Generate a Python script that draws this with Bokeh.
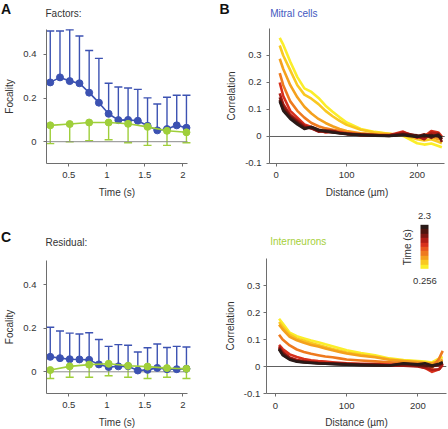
import math
from bokeh.plotting import figure
from bokeh.layouts import column, row
from bokeh.models import (FixedTicker, Whisker, TeeHead, ColumnDataSource, Label,
                          LinearColorMapper, ColorBar)
from bokeh.transform import linear_cmap
from bokeh.embed import file_html
from bokeh.resources import INLINE

# ---------------- data ----------------
time_blue = [0.256, 0.384, 0.512, 0.640, 0.768, 0.896, 1.024, 1.152,
             1.280, 1.408, 1.536, 1.664, 1.792, 1.920, 2.048]
time_green = [0.256, 0.512, 0.768, 1.024, 1.280, 1.536, 1.792, 2.048]

factors_blue_mean = [0.272, 0.295, 0.278, 0.268, 0.225, 0.179, 0.128, 0.099,
                     0.100, 0.096, 0.073, 0.052, 0.058, 0.075, 0.064]
factors_blue_upper = [0.508, 0.508, 0.513, 0.485, 0.418, 0.382, 0.268, 0.251,
                      0.246, 0.240, 0.201, 0.173, 0.204, 0.213, 0.213]
factors_green_mean = [0.075, 0.081, 0.088, 0.088, 0.082, 0.068, 0.050, 0.043]
factors_green_lower = [-0.009, 0.000, 0.005, 0.009, -0.005, -0.017, -0.017, -0.005]

residual_blue_mean = [0.069, 0.063, 0.058, 0.057, 0.055, 0.034, 0.022, 0.025,
                      0.026, 0.006, 0.009, 0.018, 0.012, 0.012, 0.014]
residual_blue_upper = [0.205, 0.188, 0.178, 0.174, 0.180, 0.149, 0.117, 0.125,
                       0.122, 0.091, 0.111, 0.128, 0.112, 0.117, 0.114]
residual_green_mean = [0.008, 0.025, 0.033, 0.037, 0.028, 0.024, 0.017, 0.014]
residual_green_lower = [-0.031, -0.025, -0.025, -0.018, -0.025, -0.031, -0.025, -0.031]

distance = [5, 10, 20, 30, 40, 50, 60, 70, 80, 90, 100, 120, 140, 160, 180,
            200, 210, 220, 230, 235]
line_times = [0.256, 0.512, 0.768, 1.024, 1.280, 1.536, 1.792, 2.048, 2.3]

mitral_corr = [
    [0.365, 0.340, 0.277, 0.220, 0.178, 0.165, 0.143, 0.114, 0.092, 0.071, 0.052,
     0.028, 0.017, 0.010, 0.002, -0.025, -0.030, -0.026, -0.035, -0.040],
    [0.337, 0.300, 0.245, 0.190, 0.155, 0.140, 0.120, 0.095, 0.075, 0.058, 0.043,
     0.025, 0.015, 0.010, 0.005, -0.010, -0.015, -0.010, -0.020, -0.025],
    [0.288, 0.250, 0.190, 0.145, 0.110, 0.085, 0.065, 0.050, 0.038, 0.028, 0.020,
     0.012, 0.008, 0.005, 0.008, 0.000, -0.005, 0.000, -0.010, -0.010],
    [0.235, 0.190, 0.130, 0.095, 0.070, 0.050, 0.038, 0.030, 0.025, 0.020, 0.015,
     0.010, 0.006, 0.004, 0.012, 0.000, 0.005, 0.010, 0.000, -0.005],
    [0.200, 0.150, 0.095, 0.070, 0.045, 0.035, 0.025, 0.015, 0.018, 0.015, 0.012,
     0.005, 0.004, 0.005, 0.018, -0.005, 0.000, 0.020, 0.015, 0.000],
    [0.160, 0.120, 0.080, 0.060, 0.040, 0.030, 0.018, 0.020, 0.020, 0.015, 0.010,
     0.006, 0.005, 0.003, 0.015, 0.002, -0.010, 0.015, 0.010, -0.010],
    [0.145, 0.110, 0.075, 0.055, 0.035, 0.030, 0.020, 0.022, 0.020, 0.013, 0.010,
     0.008, 0.004, 0.004, 0.010, 0.000, 0.008, -0.005, 0.010, -0.020],
    [0.135, 0.100, 0.070, 0.050, 0.030, 0.035, 0.022, 0.018, 0.016, 0.012, 0.008,
     0.006, 0.005, 0.002, 0.008, 0.004, 0.000, 0.005, 0.000, -0.010],
    [0.130, 0.095, 0.065, 0.045, 0.028, 0.035, 0.025, 0.020, 0.015, 0.012, 0.010,
     0.005, 0.003, 0.002, 0.005, -0.002, 0.005, 0.000, 0.005, -0.005],
]

inter_corr = [
    [0.177, 0.160, 0.125, 0.112, 0.104, 0.096, 0.090, 0.082, 0.075, 0.068, 0.060,
     0.050, 0.042, 0.030, 0.024, 0.020, 0.018, 0.015, 0.030, 0.035],
    [0.165, 0.148, 0.118, 0.103, 0.095, 0.087, 0.080, 0.072, 0.065, 0.058, 0.052,
     0.043, 0.036, 0.027, 0.021, 0.018, 0.015, 0.010, 0.018, 0.020],
    [0.155, 0.138, 0.110, 0.097, 0.088, 0.080, 0.074, 0.067, 0.060, 0.054, 0.048,
     0.040, 0.034, 0.025, 0.020, 0.016, 0.013, 0.012, 0.020, 0.025],
    [0.118, 0.100, 0.078, 0.063, 0.054, 0.047, 0.042, 0.037, 0.034, 0.030, 0.026,
     0.022, 0.019, 0.016, 0.013, 0.010, 0.008, -0.005, 0.030, 0.058],
    [0.080, 0.065, 0.045, 0.035, 0.028, 0.023, 0.020, 0.018, 0.016, 0.014, 0.012,
     0.010, 0.009, 0.007, 0.005, 0.002, -0.005, -0.020, -0.010, 0.010],
    [0.075, 0.055, 0.033, 0.024, 0.020, 0.017, 0.015, 0.013, 0.012, 0.011, 0.010,
     0.008, 0.007, 0.005, 0.003, 0.000, -0.005, -0.012, -0.010, 0.005],
    [0.070, 0.050, 0.030, 0.021, 0.018, 0.015, 0.013, 0.012, 0.011, 0.010, 0.009,
     0.007, 0.006, 0.004, 0.006, 0.003, 0.000, 0.002, 0.005, 0.012],
    [0.066, 0.045, 0.027, 0.019, 0.016, 0.014, 0.012, 0.011, 0.010, 0.009, 0.008,
     0.006, 0.005, 0.004, 0.010, 0.006, 0.004, 0.000, 0.008, 0.014],
    [0.063, 0.042, 0.025, 0.018, 0.015, 0.013, 0.011, 0.010, 0.009, 0.008, 0.007,
     0.005, 0.004, 0.004, 0.012, 0.008, 0.012, 0.004, 0.010, 0.016],
]

time_ticks = [0.5, 1, 1.5, 2]
time_tick_labels = ["0.5", "1", "1.5", "2"]
focality_ticks = [0, 0.2, 0.4]
focality_tick_labels = ["0", "0.2", "0.4"]
dist_ticks = [0, 100, 200]
dist_tick_labels = ["0", "100", "200"]
corr_ticks = [-0.1, 0, 0.1, 0.2, 0.3]
corr_tick_labels = ["-0.1", "0", "0.1", "0.2", "0.3"]
time_range_labels = ["0.256", "2.3"]

# ---------------- style ----------------
FONT = "Liberation Sans"
BLUE = "#3c52b2"
GREEN = "#9fcf3a"
AX = "#6e6e6e"
TXT = "#333333"
PALETTE = ["#fbee2a", "#f9c821", "#f4a11e", "#ee7a1f", "#e8561f",
           "#d8301c", "#b01d16", "#7e1712", "#4e150f", "#2a1a18"]


def style(p, xt, xl, yt, yl, xbounds, ybounds, xlabel, ylabel, ylab_standoff, yaxlab_standoff):
    p.outline_line_color = None
    p.xgrid.visible = False
    p.ygrid.visible = False
    for ax in (p.xaxis[0], p.yaxis[0]):
        ax.axis_line_color = AX
        ax.axis_line_width = 1
        ax.major_tick_line_color = AX
        ax.major_tick_out = 3
        ax.major_tick_in = 0
        ax.minor_tick_line_color = None
        ax.major_label_text_font = FONT
        ax.major_label_text_font_size = "9.5px"
        ax.major_label_text_color = TXT
        ax.axis_label_text_font = FONT
        ax.axis_label_text_font_size = "10px"
        ax.axis_label_text_font_style = "normal"
        ax.axis_label_text_color = TXT
    xa, ya = p.xaxis[0], p.yaxis[0]
    xa.major_label_standoff = 6
    xa.axis_label_standoff = 5
    ya.major_label_standoff = ylab_standoff
    ya.axis_label_standoff = yaxlab_standoff
    xa.ticker = FixedTicker(ticks=xt)
    xa.major_label_overrides = {t: s for t, s in zip(xt, xl)}
    ya.ticker = FixedTicker(ticks=yt)
    ya.major_label_overrides = {t: s for t, s in zip(yt, yl)}
    xa.bounds = xbounds
    ya.bounds = ybounds
    ya.fixed_location = xbounds[0]
    xa.fixed_location = ybounds[0]
    xa.axis_label = xlabel
    ya.axis_label = ylabel


def label(p, text, x, y, size="10px", color=TXT, bold=False, align="left", angle=0):
    p.add_layout(Label(x=x, y=y, x_units="screen", y_units="screen", text=text,
                       text_font=FONT, text_font_size=size, text_color=color,
                       text_font_style="bold" if bold else "normal",
                       text_align=align, text_baseline="middle", angle=angle))


TIME_AXIS = (0.2066, 2.062)


def focality_panel(height, yrange, bmean, bupper, gmean, glower):
    p = figure(width=218, height=height, x_range=(-0.3987, 2.4697), y_range=yrange,
               min_border=0, output_backend="svg", toolbar_location=None, title=None)
    style(p, time_ticks, time_tick_labels, focality_ticks, focality_tick_labels,
          TIME_AXIS, (-0.1, 0.515), "Time (s)", "Focality", 7, 5)
    p.segment(x0=TIME_AXIS[0], y0=0, x1=TIME_AXIS[1], y1=0, line_color="#8c8c8c", line_width=1)
    sb = ColumnDataSource(dict(t=time_blue, mean=bmean, upper=bupper))
    sg = ColumnDataSource(dict(t=time_green, mean=gmean, lower=glower))
    p.add_layout(Whisker(source=sb, base="t", upper="upper", lower="mean",
                         dimension="height", line_color=BLUE, line_width=1.4,
                         upper_head=TeeHead(size=8, line_color=BLUE, line_width=1.4),
                         lower_head=None))
    p.add_layout(Whisker(source=sg, base="t", upper="mean", lower="lower",
                         dimension="height", line_color=GREEN, line_width=1.4,
                         lower_head=TeeHead(size=8, line_color=GREEN, line_width=1.4),
                         upper_head=None))
    p.line("t", "mean", source=sb, line_color=BLUE, line_width=1.6)
    p.scatter("t", "mean", source=sb, size=7, fill_color=BLUE, line_color=BLUE)
    p.line("t", "mean", source=sg, line_color=GREEN, line_width=1.6)
    p.scatter("t", "mean", source=sg, size=7, fill_color=GREEN, line_color=GREEN)
    return p


def corr_panel(height, xrange, xbounds, yrange, corr, lstand, alstand):
    p = figure(width=230, height=height, x_range=xrange, y_range=yrange,
               min_border=0, output_backend="svg", toolbar_location=None, title=None)
    style(p, dist_ticks, dist_tick_labels, corr_ticks, corr_tick_labels,
          xbounds, (-0.1, 0.4), "Distance (\u00b5m)", "Correlation", lstand, alstand)
    p.segment(x0=xbounds[0], y0=0, x1=xbounds[1], y1=0, line_color="#606060", line_width=1)
    src = ColumnDataSource(dict(xs=[distance] * len(corr), ys=corr, t=line_times))
    p.multi_line("xs", "ys", source=src, line_width=2.6, line_join="round",
                 line_color=linear_cmap("t", PALETTE, line_times[0], line_times[-1]))
    return p


# panel A: canvas 218x210; x axis at y=163 from top
pA = focality_panel(210, (-0.3156, 0.6477), factors_blue_mean, factors_blue_upper,
                    factors_green_mean, factors_green_lower)
label(pA, "A", 0.5, 202, size="14px", color="#111111", bold=True)
label(pA, "Factors:", 45, 196.7)

# panel C: canvas 218x219; x axis at y=183 from top
pC = focality_panel(219, (-0.2659, 0.7433), residual_blue_mean, residual_blue_upper,
                    residual_green_mean, residual_green_lower)
label(pC, "C", 0.5, 192.3, size="14px", color="#111111", bold=True)
label(pC, "Residual:", 45, 187.3)

# panel B
pB = corr_panel(210, (-81.84, 244.4), (-9.5, 239), (-0.2741, 0.5037), mitral_corr, 5, 5)
label(pB, "B", 1, 202, size="14px", color="#111111", bold=True)
label(pB, "Mitral cells", 51.7, 196.7, color="#4257c0")

# panel D
pD = corr_panel(219, (-80.1, 243.1), (-13.1, 240), (-0.2333, 0.5778), inter_corr, 3, 5)
label(pD, "Interneurons", 51.7, 188.3, color="#a6cf3a")
mapper = LinearColorMapper(palette=PALETTE, low=line_times[0], high=line_times[-1])
cb = ColorBar(color_mapper=mapper, ticker=FixedTicker(ticks=[]), width=8, height=44,
              location=(202, 160.7), padding=0, margin=0, title=None,
              background_fill_alpha=0, border_line_color=None, bar_line_color=None,
              major_tick_line_color=None, minor_tick_line_color=None,
              major_label_text_font_size="0px")
pD.add_layout(cb)
label(pD, time_range_labels[1], 206, 213.3, size="9.5px", align="center")
label(pD, time_range_labels[0], 206.5, 148.3, size="9.5px", align="center")
label(pD, "Time (s)", 188.7, 182.3, size="10px", align="center", angle=math.pi / 2)

layout = column(row(pA, pB), row(pC, pD))
open("out.html", "w").write(file_html(layout, INLINE))
